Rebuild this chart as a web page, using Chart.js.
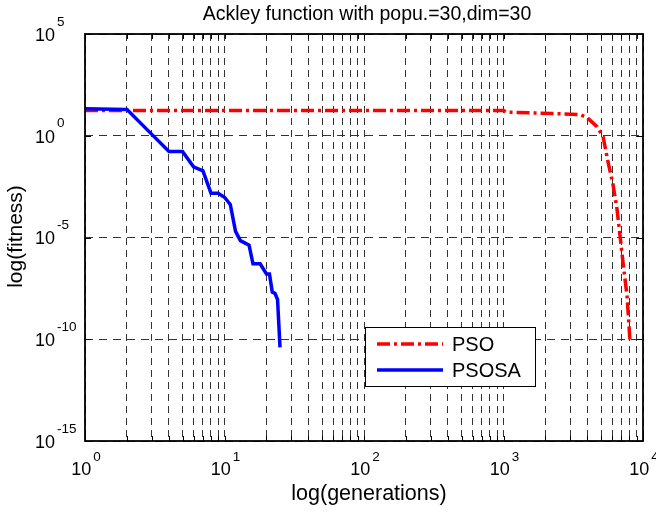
<!DOCTYPE html>
<html>
<head>
<meta charset="utf-8">
<script src="https://cdn.jsdelivr.net/npm/chart.js@4"></script>
<style>
  html, body { margin: 0; padding: 0; background: #fff; }
  canvas { display: block; }
</style>
</head>
<body>
<canvas id="grafico" width="656" height="512"></canvas>
<script>
const titulo = "Ackley function with popu.=30,dim=30";
const tituloX = "log(generations)";
const tituloY = "log(fitness)";
const nomesSeries = ["PSO", "PSOSA"];

// PSO (vermelho, traco-ponto)
const psoGeracoes = [1, 1000, 1050, 2500, 3530, 4000, 4680, 5170, 5610, 6100, 6510, 6840, 7190, 7680, 8070];
const psoFitness = [17.5, 17.5, 14.5, 12, 11, 7.5, 2.8, 0.93, 0.053, 3.9e-3, 2.5e-4, 1.3e-5, 5.9e-7, 1.4e-8, 8e-11];

// PSOSA (azul, continua)
const psosaGeracoes = [1, 2, 3, 4, 5, 6, 7, 8, 9, 10, 11, 12, 13, 15, 16, 18, 20, 21, 22, 23, 24, 25];
const psosaFitness = [21, 19.5, 1.2, 0.17, 0.17, 0.03, 0.019, 1.5e-3, 1.5e-3, 9.5e-4, 4.2e-4, 2e-5, 7e-6, 4.2e-6, 5.1e-7, 5.1e-7, 1.6e-7, 1.6e-7, 2.1e-8, 1.8e-8, 9e-9, 4e-11];

// rotulos dos eixos (potencias de 10)
const xDecadas = [1, 10, 100, 1000, 10000];
const xExpoentes = ["0", "1", "2", "3", "4"];
const yDecadas = [1e-15, 1e-10, 1e-5, 1, 1e5];
const yExpoentes = ["-15", "-10", "-5", "0", "5"];

const fonte = "'Liberation Sans', Arial, Helvetica, sans-serif";

// linhas de grade em x: 1..9 de cada decada
let xGrade = [];
for (let d = 0; d < xDecadas.length - 1; d++) {
  for (let m = 1; m < 10; m++) xGrade.push(m * xDecadas[d]);
}
xGrade.push(xDecadas[xDecadas.length - 1]);

function juntar(xs, ys) {
  let pontos = [];
  for (let i = 0; i < xs.length; i++) pontos.push({ x: xs[i], y: ys[i] });
  return pontos;
}

function desenhaPotencia(ctx, exp, x, yBase, ySup, alinhamento) {
  ctx.font = "18px " + fonte;
  let w1 = ctx.measureText("10").width;
  ctx.font = "13.5px " + fonte;
  let w2 = ctx.measureText(exp).width;
  let inicio = alinhamento == "centro" ? x - (w1 + 2 + w2) / 2 : x;
  ctx.textAlign = "left";
  ctx.textBaseline = "middle";
  ctx.font = "18px " + fonte;
  ctx.fillText("10", inicio, yBase);
  ctx.font = "13.5px " + fonte;
  ctx.fillText(exp, inicio + w1 + 2, ySup);
}

const moldura = {
  id: "moldura",
  beforeDraw(chart) {
    const ctx = chart.ctx;
    ctx.save();
    ctx.fillStyle = "#fff";
    ctx.fillRect(0, 0, chart.width, chart.height);
    ctx.restore();
  },
  afterDraw(chart) {
    const ctx = chart.ctx;
    const a = chart.chartArea;
    const sx = chart.scales.x;
    const sy = chart.scales.y;
    ctx.save();

    // marcas dos ticks para dentro
    ctx.strokeStyle = "#000";
    ctx.lineWidth = 1;
    ctx.setLineDash([]);
    sx.ticks.forEach((t) => {
      let px = Math.round(sx.getPixelForValue(t.value)) + 0.5;
      ctx.beginPath();
      ctx.moveTo(px, a.bottom); ctx.lineTo(px, a.bottom - 5);
      ctx.moveTo(px, a.top); ctx.lineTo(px, a.top + 5);
      ctx.stroke();
    });
    sy.ticks.forEach((t) => {
      let py = Math.round(sy.getPixelForValue(t.value)) + 0.5;
      ctx.beginPath();
      ctx.moveTo(a.left, py); ctx.lineTo(a.left + 6, py);
      ctx.moveTo(a.right, py); ctx.lineTo(a.right - 6, py);
      ctx.stroke();
    });

    // caixa do grafico
    ctx.lineWidth = 1.8;
    ctx.strokeRect(a.left, a.top, a.right - a.left, a.bottom - a.top);

    // rotulos dos ticks
    ctx.fillStyle = "#000";
    for (let i = 0; i < xDecadas.length; i++) {
      let px = sx.getPixelForValue(xDecadas[i]);
      desenhaPotencia(ctx, xExpoentes[i], px + 1, a.bottom + 29, a.bottom + 16, "centro");
    }
    for (let i = 0; i < yDecadas.length; i++) {
      let py = sy.getPixelForValue(yDecadas[i]);
      desenhaPotencia(ctx, yExpoentes[i], 35, py + 2, py - 12, "esquerda");
    }

    // titulos
    ctx.textAlign = "center";
    ctx.textBaseline = "middle";
    ctx.font = "19.5px " + fonte;
    ctx.fillText(titulo, (a.left + a.right) / 2 + 3, 15);
    ctx.font = "21.5px " + fonte;
    ctx.fillText(tituloX, (a.left + a.right) / 2 + 5, 494);
    ctx.save();
    ctx.translate(16, (a.top + a.bottom) / 2 - 1);
    ctx.rotate(-Math.PI / 2);
    ctx.font = "21px " + fonte;
    ctx.fillText(tituloY, 0, 0);
    ctx.restore();

    // legenda
    ctx.fillStyle = "#fff";
    ctx.fillRect(365, 327, 170, 59);
    ctx.strokeStyle = "#000";
    ctx.lineWidth = 1;
    ctx.strokeRect(365.5, 327.5, 170, 59);
    const cores = ["#ff0000", "#0000ff"];
    const tracos = [[13, 4, 3, 4], []];
    const ys = [344, 370];
    for (let i = 0; i < nomesSeries.length; i++) {
      ctx.strokeStyle = cores[i];
      ctx.lineWidth = 3.5;
      ctx.setLineDash(tracos[i]);
      ctx.beginPath();
      ctx.moveTo(377, ys[i]);
      ctx.lineTo(443, ys[i]);
      ctx.stroke();
      ctx.setLineDash([]);
      ctx.fillStyle = "#000";
      ctx.textAlign = "left";
      ctx.font = "20px " + fonte;
      ctx.fillText(nomesSeries[i], 452, ys[i] + 1);
    }
    ctx.restore();
  },
};

var grafico = new Chart(document.getElementById("grafico").getContext("2d"), {
  type: "scatter",
  data: {
    datasets: [
      {
        label: nomesSeries[0],
        data: juntar(psoGeracoes, psoFitness),
        showLine: true,
        borderColor: "#ff0000",
        borderWidth: 3.5,
        borderDash: [13, 4, 3, 4],
        pointRadius: 0,
        order: 2,
      },
      {
        label: nomesSeries[1],
        data: juntar(psosaGeracoes, psosaFitness),
        showLine: true,
        borderColor: "#0000ff",
        borderWidth: 3.5,
        pointRadius: 0,
        order: 1,
      },
    ],
  },
  options: {
    responsive: false,
    animation: false,
    layout: { padding: { left: 85, right: 13, top: 34, bottom: 71 } },
    plugins: {
      legend: { display: false },
      tooltip: { enabled: false },
    },
    scales: {
      x: {
        type: "logarithmic",
        min: 1,
        max: 10000,
        afterBuildTicks: (s) => { s.ticks = xGrade.map((v) => ({ value: v })); },
        afterFit: (s) => { s.height = 0; },
        ticks: { display: false },
        grid: { color: "#333", lineWidth: 1, drawTicks: false },
        border: { display: false, dash: [7, 5] },
      },
      y: {
        type: "logarithmic",
        min: 1e-15,
        max: 1e5,
        afterBuildTicks: (s) => { s.ticks = yDecadas.map((v) => ({ value: v })); },
        afterFit: (s) => { s.width = 0; },
        ticks: { display: false },
        grid: { color: "#333", lineWidth: 1, drawTicks: false },
        border: { display: false, dash: [8, 6] },
      },
    },
  },
  plugins: [moldura],
});
</script>
</body>
</html>
